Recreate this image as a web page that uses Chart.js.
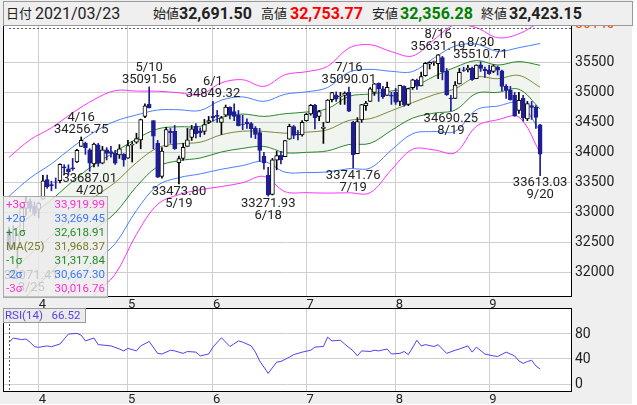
<!DOCTYPE html>
<html lang="ja">
<head>
<meta charset="utf-8">
<script src="https://cdn.jsdelivr.net/npm/chart.js@4.4.1/dist/chart.umd.min.js"></script>
<style>
body{margin:0;background:#fff;font-family:Roboto,"Noto Sans CJK JP",sans-serif;}
#wrap{position:relative;width:637px;height:405px;overflow:hidden;background:#fff;}
#head{position:absolute;left:3px;top:1px;width:628px;height:23px;background:#efefef;border:1px solid #999;z-index:5;}
#head span{position:absolute;top:0;line-height:24px;white-space:nowrap;color:#222;}
#head .k{font-size:13px;}
#head .v{font-size:16px;font-weight:bold;}
#mainBox{position:absolute;left:0;top:0;width:632px;height:308px;}
#rsiBox{position:absolute;left:0;top:308px;width:632px;height:96px;}
#bb{position:absolute;left:3px;top:196px;width:103px;height:100px;background:rgba(236,236,236,0.82);border:1px solid #aaa;z-index:4;font-size:11.5px;}
#bb div{position:absolute;left:2px;right:2px;height:14px;line-height:14px;}
#bb b{font-weight:normal;position:absolute;right:0;top:0;}
#rsiTag{position:absolute;left:3px;top:308px;width:80px;height:13px;line-height:13px;background:rgba(232,232,232,0.85);border:1px solid #999;z-index:4;font-size:11.5px;color:#5a40e8;padding-left:1px;}
</style>
</head>
<body>
<div id="wrap">
  <div id="head">
    <span class="k" style="left:2px">日付</span>
    <span style="left:31px;font-size:16px">2021/03/23</span>
    <span class="k" style="left:149px">始値</span>
    <span class="v" style="left:175px">32,691.50</span>
    <span class="k" style="left:257px">高値</span>
    <span class="v" style="left:286px;color:#f00">32,753.77</span>
    <span class="k" style="left:368px">安値</span>
    <span class="v" style="left:396px;color:#008000">32,356.28</span>
    <span class="k" style="left:477px">終値</span>
    <span class="v" style="left:505px">32,423.15</span>
  </div>
  <div id="mainBox"><canvas id="mainChart"></canvas></div>
  <div id="bb">
    <div style="top:0;color:#ff2fd0">+3σ<b>33,919.99</b></div>
    <div style="top:14px;color:#3a78f0">+2σ<b>33,269.45</b></div>
    <div style="top:28px;color:#228b22">+1σ<b>32,618.91</b></div>
    <div style="top:42px;color:#7a7a26">MA(25)<b>31,968.37</b></div>
    <div style="top:56px;color:#228b22">-1σ<b>31,317.84</b></div>
    <div style="top:70px;color:#3a78f0">-2σ<b>30,667.30</b></div>
    <div style="top:84px;color:#ff2fd0">-3σ<b>30,016.76</b></div>
  </div>
  <div id="rsiBox"><canvas id="rsiChart"></canvas></div>
  <div id="rsiTag">RSI(14)&nbsp;&nbsp;&nbsp;66.52</div>
</div>
<script>
// 日足 3/23〜9/20 (index 0 = 3/23)
const open = [32691.5,32452,32404,32681,33070,33183,33108,33054,33222,33546,
  33463,33510,33530,33761,33725,33745,33840,34100,34153,34045,
  33810,34127,33820,34041,34012,33985,33960,33970,33904,34120,
  34170,34210,34600,34800,34530,34150,33600,34100,34350,34350,
  33830,33900,34100,34250,34440,34360,34350,34500,34600,34620,
  34500,34620,34750,34680,34620,34470,34500,34480,34400,34330,
  33940,33620,33300,33870,33950,33930,34220,34430,34300,34290,
  34530,34640,34790,34600,34400,34500,34880,34960,34930,34950,
  35000,34500,33980,34540,34780,34850,35000,35150,35060,34950,
  34950,35000,34850,35100,34800,35080,35200,35110,35280,35470,
  35500,35480,35580,35350,34900,34900,35140,35370,35380,35400,
  35230,35460,35390,35370,35350,35420,35360,35100,35040,34950,
  34700,34900,34560,34780,34750,34460];
const high = [32753.77,32780,32642,33098,33259,33227,33174,33167,33617,33622,
  33521,33574,33810,33795,33794,33900,34050,34256.75,34173,34064,
  34157,34150,34100,34080,34100,34035,34130,33980,34200,34180,
  34320,34555,34811,35091.56,34530,34200,34080,34420,34400,34450,
  33940,34150,34400,34450,34480,34410,34550,34600,34849.32,34700,
  34600,34790,34760,34810,34700,34620,34560,34500,34430,34400,
  34000,33750,33900,34020,34020,34200,34470,34450,34370,34530,
  34650,34800,34800,34700,34500,34880,35000,35010,35000,35010,
  35090.01,34520,34580,34800,34850,35080,35150,35160,35100,35170,
  35000,35070,35120,35110,35070,35220,35220,35340,35500,35510,
  35520,35631.19,35600,35400,34950,35180,35400,35420,35450,35420,
  35460,35510.71,35420,35450,35460,35440,35370,35130,35100,35000,
  35000,34950,34850,34850,34780,34470];
const low = [32356.28,32385,32071.41,32660,32950,33016,32945,32908,33222,33401,
  33360,33399,33490,33630,33625,33700,33830,34100,33967,33687.01,
  33760,33770,33810,33875,33920,33800,33900,33770,33900,33840,
  34150,34060,34580,34740,34060,33580,33570,34100,34150,34050,
  33473.80,33870,34100,34200,34240,34260,34300,34480,34520,34500,
  34300,34600,34560,34530,34440,34380,34400,34250,34230,33850,
  33720,33271.93,33290,33710,33810,33930,34220,34230,34210,34270,
  34520,34620,34390,34530,34150,34500,34840,34850,34800,34800,
  34680,33741.76,33980,34500,34700,34850,34950,34850,34900,34950,
  34800,34800,34780,34770,34780,35050,35050,35110,35270,35390,
  35450,35230,35210,34950,34690.25,34900,35140,35350,35340,35200,
  35230,35350,35250,35300,35330,35290,35030,34900,34870,34600,
  34650,34520,34530,34550,34400,33613.03];
const close = [32423.15,32420.06,32619.48,33072.88,33171.37,33066.96,32981.55,33153.21,33527.19,33430.24,
  33446.26,33503.57,33800.60,33745.40,33677.27,33730.89,34035.99,34200.67,34077.63,33821.30,
  34137.31,33815.90,34043.49,33981.57,33984.93,33820.38,34060.36,33874.85,34113.23,34133.03,
  34230.34,34548.53,34777.76,34742.82,34269.16,33587.66,34021.45,34382.13,34327.79,34060.66,
  33896.04,34084.15,34207.84,34393.98,34312.46,34323.05,34464.64,34529.45,34575.31,34600.38,
  34577.04,34756.39,34630.24,34599.82,34447.14,34466.24,34479.60,34393.75,34299.33,34033.67,
  33823.45,33290.08,33876.97,33945.58,33874.24,34196.82,34433.84,34283.27,34292.29,34502.51,
  34633.53,34786.35,34577.37,34681.79,34421.93,34870.16,34996.18,34888.79,34933.23,34987.02,
  34687.85,33962.04,34511.99,34798.00,34823.35,35061.55,35144.31,35058.52,34930.93,35084.53,
  34935.47,34838.16,35116.40,34792.67,35064.25,35208.51,35101.85,35264.67,35484.97,35499.85,
  35515.38,35625.40,35343.28,34960.69,34894.12,35120.08,35335.71,35366.26,35405.50,35213.12,
  35455.80,35399.84,35360.73,35312.53,35443.82,35369.09,35100.00,35031.07,34879.38,34607.72,
  34869.63,34577.57,34814.39,34751.32,34584.88,33970.47];

// 月の区切り (index) と目盛り
const monthIdx = [7, 28, 48, 70, 91, 113];
const monthLbl = ['4', '5', '6', '7', '8', '9'];
const priceTicks = [32000, 32500, 33000, 33500, 34000, 34500, 35000, 35500, 36140];
const rsiTicks = [0, 40, 80];

// ボリンジャーバンド (25日) 読み取り値
const bandIdx = [0,5,10,15,20,25,30,35,40,45,50,55,60,65,70,75,80,85,90,95,100,105,110,115,120,125];
const ma25 = [31968,32300,32610,32950,33250,33500,33828,34078,34145,34170,34295,34353,34350,34320,34337,34378,34533,34562,34695,34830,34960,35062,35257,35228,35283,35087];
const sigma = [650,637,600,570,543,510,398,314,283,264,288,286,250,325,336,352,402,411,328,259,306,356,274,228,231,364];

// RSI(14)
const rsiIdx = [0,1,3,4,5,6,7,9,10,12,13,14,16,17,18,20,21,24,26,27,28,30,31,33,35,36,38,39,41,42,44,45,47,48,50,51,52,54,55,57,58,59,61,63,64,66,67,69,71,72,74,75,76,78,79,81,82,83,85,86,87,89,90,92,93,94,96,97,98,100,101,103,105,106,108,109,110,112,114,115,117,119,120,121,122,123,124,125];
const rsiVal = [66.5,73.6,71,72,66.7,59.7,58.7,61,59.7,64,72,80,81,78,69,73.6,63,61,56,53,57,53,61,68,49,48,54,53,49,52,51,45,48,59,74,67,60,69,67,61,51,37,17,35,36,43,47,51,54,59,60,75,69,70,64,53,45,53,52,54,53,56,48,49,52,47,70,61,63,60,63,49,54,56,61,51,59,48,45,44,51,45,37,33,36,38,29,24];

// 高値・安値の注記
const markIdx = [2, 17, 19, 33, 40, 48, 61, 80, 81, 101, 104, 111, 125];
const markHigh = [false, true, false, true, false, true, false, true, false, true, false, true, false];
const markDate = ['3/25','4/16','4/20','5/10','5/19','6/1','6/18','7/16','7/19','8/16','8/19','8/30','9/20'];

const UP = '#ffffff', DOWN = '#1e1e96';
const FONT = 'Roboto, "Noto Sans CJK JP", sans-serif';
const X_MIN = -1.4, X_MAX = 132.5;

const days = close.map((_, i) => i);
const isUp = days.map(i => close[i] >= open[i]);

const bgPlugin = {
  id: 'panelBg',
  beforeDraw(chart) {
    const {ctx, chartArea: a, width, height} = chart;
    ctx.save();
    ctx.fillStyle = '#efefef';
    ctx.fillRect(0, 0, width, height);
    ctx.fillStyle = '#fff';
    ctx.fillRect(a.left, a.top, a.right - a.left, a.bottom - a.top);
    ctx.restore();
  },
  afterDraw(chart) {
    const {ctx, chartArea: a} = chart;
    ctx.save();
    ctx.strokeStyle = '#000';
    ctx.lineWidth = 1;
    ctx.strokeRect(a.left + 0.5, a.top + 0.5, a.right - a.left - 1, a.bottom - a.top);
    ctx.restore();
  }
};

const markPlugin = {
  id: 'marks',
  afterDatasetsDraw(chart) {
    const {ctx, chartArea: a, scales} = chart;
    ctx.save();
    ctx.font = '13px ' + FONT;
    ctx.fillStyle = '#222';
    ctx.textAlign = 'center';
    markIdx.forEach((d, k) => {
      const v = markHigh[k] ? high[d] : low[d];
      const txt = v.toFixed(2);
      const w = ctx.measureText(txt).width;
      let x = scales.x.getPixelForValue(d);
      x = Math.max(a.left + w / 2 + 1, Math.min(a.right - w / 2 - 1, x));
      const y = scales.y.getPixelForValue(v);
      if (markHigh[k]) {
        ctx.textBaseline = 'bottom';
        ctx.fillText(txt, x, y - 1);
        ctx.fillText(markDate[k], x, y - 13);
      } else {
        ctx.textBaseline = 'top';
        ctx.fillText(txt, x, y + 1);
        ctx.fillText(markDate[k], x, y + 13);
      }
    });
    // カーソル線
    ctx.strokeStyle = '#555';
    ctx.setLineDash([2, 2]);
    ctx.beginPath();
    ctx.moveTo(scales.x.getPixelForValue(0), a.top + 4.5);
    ctx.lineTo(a.right, a.top + 4.5);
    ctx.stroke();
    ctx.restore();
  }
};

const cursorPlugin = {
  id: 'cursor',
  afterDatasetsDraw(chart) {
    const {ctx, chartArea: a, scales} = chart;
    const x = Math.round(scales.x.getPixelForValue(0)) + 0.5;
    ctx.save();
    ctx.strokeStyle = '#555';
    ctx.setLineDash([2, 2]);
    ctx.beginPath();
    ctx.moveTo(x, a.top);
    ctx.lineTo(x, a.bottom);
    ctx.stroke();
    ctx.restore();
  }
};

function xAxis(h) {
  return {
    type: 'linear', min: X_MIN, max: X_MAX, offset: false,
    afterBuildTicks: s => { s.ticks = monthIdx.map(v => ({value: v})); },
    afterFit: s => { s.height = h; },
    ticks: {
      autoSkip: false, maxRotation: 0, align: 'start', padding: 1,
      color: '#222', font: {family: FONT, size: 13},
      callback: v => monthLbl[monthIdx.indexOf(v)]
    },
    grid: {color: '#cfcfcf', drawTicks: false, offset: false},
    border: {display: false}
  };
}

function band(k) {
  return bandIdx.map((d, j) => ({x: d, y: ma25[j] + k * sigma[j]}));
}

function line(label, data, color, extra) {
  return Object.assign({
    type: 'line', label, data, borderColor: color, borderWidth: 1,
    pointRadius: 0, tension: 0.35, fill: false, order: 10
  }, extra || {});
}

Chart.defaults.animation = false;
Chart.defaults.font.family = FONT;

new Chart(document.getElementById('mainChart'), {
  type: 'bar',
  data: {
    datasets: [
      {
        label: 'body',
        data: days.map(i => ({x: i, y: [open[i], close[i]]})),
        backgroundColor: days.map(i => isUp[i] ? UP : DOWN),
        borderColor: days.map(i => isUp[i] ? '#000' : DOWN),
        borderWidth: 1, borderSkipped: false,
        barThickness: 4, grouped: false, order: 0
      },
      {
        label: 'wick',
        data: days.map(i => ({x: i, y: [low[i], high[i]]})),
        backgroundColor: days.map(i => isUp[i] ? '#000' : DOWN),
        barThickness: 1, grouped: false, order: 1
      },
      line('+3σ', band(3), '#ff33ff'),
      line('+2σ', band(2), '#4a80ff'),
      line('+1σ', band(1), '#2a8a2a', {fill: {target: 6}, backgroundColor: 'rgba(40,120,40,0.07)'}),
      line('MA(25)', band(0), '#8a8a3a'),
      line('-1σ', band(-1), '#2a8a2a'),
      line('-2σ', band(-2), '#4a80ff'),
      line('-3σ', band(-3), '#ff33ff')
    ]
  },
  options: {
    responsive: true,
    maintainAspectRatio: false,
    layout: {padding: {left: 3, top: 24, right: 0, bottom: 0}},
    plugins: {legend: {display: false}, tooltip: {enabled: false}},
    scales: {
      x: xAxis(12),
      y: {
        position: 'right', min: 31607, max: 36140,
        afterBuildTicks: s => { s.ticks = priceTicks.map(v => ({value: v})); },
        afterFit: s => { s.width = 60; },
        ticks: {
          padding: 3, font: {size: 14},
          color: c => c.tick.value === priceTicks[priceTicks.length - 1] ? '#ff4500' : '#222',
          callback: v => String(v)
        },
        grid: {color: '#cfcfcf', drawTicks: false},
        border: {display: false}
      }
    }
  },
  plugins: [bgPlugin, markPlugin]
});

new Chart(document.getElementById('rsiChart'), {
  type: 'line',
  data: {
    datasets: [{
      label: 'RSI(14)',
      data: rsiIdx.map((d, j) => ({x: d, y: rsiVal[j]})),
      borderColor: '#5a3cf5', borderWidth: 1, pointRadius: 0, tension: 0, spanGaps: true
    }]
  },
  options: {
    responsive: true,
    maintainAspectRatio: false,
    layout: {padding: {left: 3, top: 0, right: 0, bottom: 0}},
    plugins: {legend: {display: false}, tooltip: {enabled: false}},
    scales: {
      x: xAxis(13),
      y: {
        position: 'right', min: -11.2, max: 121.6,
        afterBuildTicks: s => { s.ticks = rsiTicks.map(v => ({value: v})); },
        afterFit: s => { s.width = 60; s.paddingTop = 0; s.paddingBottom = 0; },
        ticks: {padding: 3, font: {size: 14}, color: '#222'},
        grid: {color: '#cfcfcf', drawTicks: false},
        border: {display: false}
      }
    }
  },
  plugins: [bgPlugin, cursorPlugin]
});
</script>
</body>
</html>
